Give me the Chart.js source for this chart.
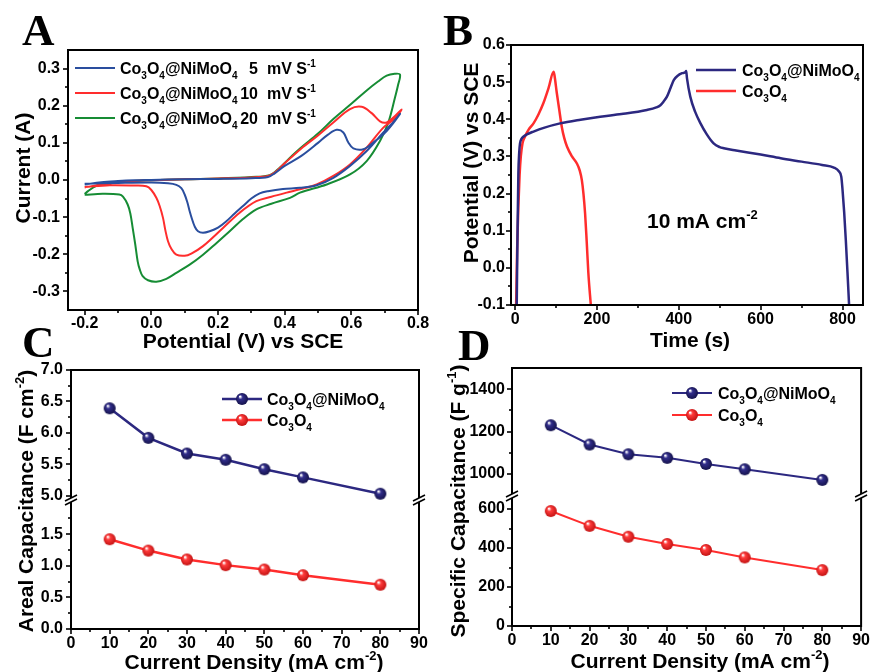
<!DOCTYPE html>
<html><head><meta charset="utf-8">
<script src="https://cdn.jsdelivr.net/npm/chart.js@4.4.0/dist/chart.umd.min.js"></script>
<style>
html,body{margin:0;padding:0;background:#fff;}
#wrap{position:relative;width:875px;height:672px;overflow:hidden;background:#fff;}
canvas{position:absolute;left:0;top:0;}
</style></head><body><div id="wrap">
<canvas id="cA" width="875" height="672"></canvas>
<canvas id="cB" width="875" height="672"></canvas>
<canvas id="cC" width="875" height="672"></canvas>
<canvas id="cD" width="875" height="672"></canvas>
</div>
<script>
// ---------- DATA ----------
// Panel A: CV curves (potential V, current A)
const cv5X  = [-0.2,-0.15,-0.1,-0.05,0.0,0.1,0.2,0.3,0.35,0.37,0.4,0.45,0.5,0.53,0.556,0.576,0.591,0.606,0.636,0.666,0.706,0.746,
               0.72,0.696,0.646,0.596,0.546,0.496,0.446,0.395,0.35,0.325,0.3,0.275,0.25,0.225,0.2,0.175,0.155,0.14,0.13,0.122,0.115,0.108,0.1,0.09,0.075,0.05,0.0,-0.1,-0.2];
const cv5Y  = [-0.012,-0.006,-0.003,-0.001,0.0,0.002,0.003,0.005,0.008,0.018,0.038,0.065,0.1,0.122,0.135,0.128,0.101,0.085,0.083,0.101,0.132,0.178,
               0.15,0.128,0.078,0.038,0.006,-0.014,-0.021,-0.024,-0.03,-0.036,-0.05,-0.07,-0.09,-0.111,-0.128,-0.138,-0.142,-0.138,-0.125,-0.105,-0.084,-0.06,-0.039,-0.022,-0.013,-0.009,-0.007,-0.008,-0.01];
const cv10X = [-0.2,-0.15,-0.1,-0.05,0.0,0.1,0.2,0.3,0.35,0.37,0.4,0.45,0.5,0.546,0.596,0.631,0.661,0.686,0.706,0.726,0.751,
               0.73,0.696,0.646,0.596,0.546,0.496,0.446,0.406,0.36,0.315,0.265,0.215,0.155,0.12,0.1,0.075,0.06,0.05,0.042,0.035,0.025,0.015,0.0,-0.015,-0.05,-0.125,-0.2];
const cv10Y = [-0.02,-0.012,-0.006,-0.003,-0.001,0.002,0.004,0.007,0.011,0.02,0.045,0.085,0.12,0.155,0.191,0.197,0.18,0.158,0.155,0.168,0.19,
               0.165,0.141,0.087,0.042,0.011,-0.012,-0.025,-0.034,-0.045,-0.057,-0.088,-0.129,-0.178,-0.198,-0.204,-0.201,-0.185,-0.165,-0.135,-0.102,-0.07,-0.048,-0.027,-0.017,-0.015,-0.014,-0.019];
const cv20X = [-0.2,-0.19,-0.166,-0.12,-0.096,0.0,0.1,0.2,0.3,0.355,0.385,0.416,0.446,0.5,0.546,0.6,0.646,0.68,0.706,0.73,0.746,
               0.74,0.731,0.711,0.686,0.646,0.596,0.526,0.446,0.416,0.36,0.315,0.275,0.235,0.195,0.155,0.115,0.075,0.045,0.015,-0.01,-0.026,-0.035,-0.041,-0.048,-0.056,-0.063,-0.071,-0.085,-0.096,-0.146,-0.2];
const cv20Y = [-0.038,-0.03,-0.016,-0.007,-0.005,-0.001,0.002,0.004,0.008,0.013,0.033,0.06,0.085,0.125,0.164,0.205,0.241,0.265,0.281,0.286,0.284,
               0.255,0.222,0.155,0.105,0.051,0.015,-0.012,-0.034,-0.048,-0.064,-0.079,-0.105,-0.138,-0.17,-0.201,-0.228,-0.25,-0.266,-0.274,-0.27,-0.259,-0.24,-0.219,-0.175,-0.129,-0.09,-0.066,-0.045,-0.039,-0.037,-0.04];
// Panel B: charge-discharge (time s, potential V)
const gcdNiX = [4,6,8,10,12,16,20,30,45,70,110,160,208,260,322,345,355,363,371,380,388,398,408,416,418,420,428,440,453,468,485,500,510,540,600,649,700,750,779,791,797,800,804,808,812,816];
const gcdNiY = [-0.1,0.1,0.254,0.31,0.335,0.348,0.353,0.36,0.367,0.377,0.389,0.399,0.407,0.414,0.425,0.432,0.438,0.448,0.461,0.485,0.506,0.518,0.524,0.527,0.53,0.51,0.461,0.42,0.389,0.36,0.335,0.325,0.322,0.316,0.305,0.295,0.286,0.277,0.27,0.26,0.245,0.21,0.15,0.075,-0.01,-0.1];
const gcdCoX = [2.5,5,8,11,14,18,24,33,45,57,69,82,94,96,102,108,114,120,127,139,151,158,163,167,171,175,179,185];
const gcdCoY = [-0.1,0.05,0.165,0.25,0.3,0.335,0.353,0.372,0.389,0.413,0.443,0.485,0.528,0.52,0.47,0.425,0.38,0.35,0.326,0.3,0.281,0.262,0.237,0.2,0.147,0.07,-0.014,-0.1];
// Panels C, D
const density   = [10,20,30,40,50,60,80];
const arealNi   = [6.39,5.92,5.67,5.57,5.42,5.29,5.03];
const arealCo   = [1.42,1.24,1.10,1.01,0.94,0.85,0.70];
const specNi    = [1230,1139,1093,1076,1047,1022,972];
const specCo    = [590,514,458,421,390,352,287];
// Tick values
const aXTicks = [-0.2,0,0.2,0.4,0.6,0.8], aXMinor = [-0.1,0.1,0.3,0.5,0.7];
const aYTicks = [-0.3,-0.2,-0.1,0,0.1,0.2,0.3], aYMinor = [-0.25,-0.15,-0.05,0.05,0.15,0.25];
const bXTicks = [0,200,400,600,800], bXMinor = [100,300,500,700];
const bYTicks = [-0.1,0,0.1,0.2,0.3,0.4,0.5,0.6], bYMinor = [-0.05,0.05,0.15,0.25,0.35,0.45,0.55];
const cdXTicks = [0,10,20,30,40,50,60,70,80,90], cdXMinor = [5,15,25,35,45,55,65,75,85];
const cTopTicks = [5.0,5.5,6.0,6.5,7.0], cTopMinor = [5.25,5.75,6.25,6.75];
const cBotTicks = [0,0.5,1.0,1.5], cBotMinor = [0.25,0.75,1.25,1.75];
const dTopTicks = [1000,1200,1400], dTopMinor = [1100,1300];
const dBotTicks = [0,200,400,600], dBotMinor = [100,300,500];

// ---------- STYLE ----------
const FAM = "'Liberation Sans', Arial, Helvetica, sans-serif";
const BLUE = 'rgb(42,78,158)', RED = 'rgb(255,45,45)', GREEN = 'rgb(22,140,52)', NAVY = 'rgb(44,40,128)';

function pts(xs, ys){ return xs.map((x,i)=>({x, y: ys[i]})); }

function sphere(base, dark){
  const r = 6, c = document.createElement('canvas'); c.width = c.height = 2*r+2;
  const g = c.getContext('2d');
  const grd = g.createRadialGradient(r+1-2, r+1-2.5, 0.5, r+1, r+1, r+0.5);
  grd.addColorStop(0, '#ffffff'); grd.addColorStop(0.28, base); grd.addColorStop(1, dark);
  g.fillStyle = grd; g.beginPath(); g.arc(r+1, r+1, r, 0, Math.PI*2); g.fill();
  return c;
}
const ballNavy = sphere('rgb(50,46,140)', 'rgb(18,16,70)');
const ballRed = sphere('rgb(255,60,60)', 'rgb(190,15,15)');

function rich(ctx, parts, x, y, size, align, rot, dyLocal){
  const fN = `bold ${size}px ${FAM}`, fS = `bold ${Math.round(size*0.62)}px ${FAM}`;
  let w = 0;
  const items = parts.map(([t,m]) => { ctx.font = m ? fS : fN; const tw = ctx.measureText(t).width; w += tw; return {t,m,tw}; });
  ctx.save(); ctx.translate(x, y); if (rot) ctx.rotate(rot);
  let cx = align === 'center' ? -w/2 : (align === 'right' ? -w : 0);
  ctx.textAlign = 'left'; ctx.textBaseline = 'alphabetic'; ctx.fillStyle = '#000';
  for (const it of items){
    ctx.font = it.m ? fS : fN;
    const dy = (dyLocal||0) + (it.m === 1 ? size*0.3 : (it.m === 2 ? -size*0.42 : 0));
    ctx.fillText(it.t, cx, dy); cx += it.tw;
  }
  ctx.restore();
}
const CoNi = [['Co',0],['3',1],['O',0],['4',1],['@NiMoO',0],['4',1]];
const Co = [['Co',0],['3',1],['O',0],['4',1]];

function makeDeco(cfg){
  return { id: 'deco', afterDraw(chart){
    const ctx = chart.ctx, ca = chart.chartArea;
    ctx.save(); ctx.strokeStyle = '#000';
    for (const t of cfg.ticks){
      const s = chart.scales[t.id];
      ctx.lineWidth = 1.6;
      for (const v of t.v){
        const p = Math.round(s.getPixelForValue(v)) + 0.0;
        ctx.beginPath();
        if (s.isHorizontal()){ ctx.moveTo(p, ca.bottom); ctx.lineTo(p, ca.bottom + t.len); }
        else { ctx.moveTo(ca.left, p); ctx.lineTo(ca.left - t.len, p); }
        ctx.stroke();
      }
    }
    ctx.lineWidth = 2; ctx.strokeRect(ca.left, ca.top, ca.width, ca.height);
    if (cfg.breakId){
      const y = chart.scales[cfg.breakId].bottom;
      for (const x of [ca.left, ca.right]){
        ctx.fillStyle = '#fff';
        ctx.beginPath(); ctx.moveTo(x-6, y+1); ctx.lineTo(x+6, y-5); ctx.lineTo(x+6, y-1); ctx.lineTo(x-6, y+5); ctx.closePath(); ctx.fill();
        ctx.lineWidth = 1.6;
        ctx.beginPath(); ctx.moveTo(x-6, y+1); ctx.lineTo(x+6, y-5); ctx.moveTo(x-6, y+5); ctx.lineTo(x+6, y-1); ctx.stroke();
      }
    }
    cfg.draw(ctx, chart);
    ctx.restore();
  }};
}

function lin(min, max, ticks, fmt, size, pad, extra){
  return Object.assign({
    type: 'linear', min, max,
    grid: {display: false, drawTicks: false},
    border: {display: false},
    ticks: {padding: pad, color: '#000', font: {size: 16, weight: 'bold', family: FAM}, callback: fmt, maxRotation: 0, autoSkip: false, includeBounds: false},
    afterBuildTicks: s => { s.ticks = ticks.map(v => ({value: v})); },
    afterFit: s => { if (s.isHorizontal()) s.height = size; else s.width = size; }
  }, extra || {});
}
const f1 = v => Number(v).toFixed(1), f0 = v => String(Math.round(v));
const base = { responsive: false, animation: false, events: [], plugins: {legend: {display: false}, tooltip: {enabled: false}} };
function line(label, data, color, w, extra){
  return Object.assign({label, data, borderColor: color, backgroundColor: color, borderWidth: w, pointRadius: 0, fill: false, tension: 0.35}, extra || {});
}
function letter(ctx, t, x, y){ ctx.font = `bold 45px 'Liberation Serif', 'Times New Roman', serif`; ctx.fillStyle = '#000'; ctx.textAlign = 'left'; ctx.textBaseline = 'alphabetic'; ctx.fillText(t, x, y); }
function legLine(ctx, x1, x2, y, color, w, ball){
  ctx.strokeStyle = color; ctx.lineWidth = w; ctx.beginPath(); ctx.moveTo(x1, y); ctx.lineTo(x2, y); ctx.stroke();
  if (ball) ctx.drawImage(ball, (x1+x2)/2 - ball.width/2, y - ball.height/2);
}

// ---------- PANEL A ----------
new Chart(document.getElementById('cA'), {
  type: 'line',
  data: {datasets: [
    line('5 mV/s', pts(cv5X, cv5Y), BLUE, 2),
    line('10 mV/s', pts(cv10X, cv10Y), RED, 2),
    line('20 mV/s', pts(cv20X, cv20Y), GREEN, 2)
  ]},
  options: Object.assign({}, base, {
    layout: {padding: {left: 0, top: 50, right: 457, bottom: 337}},
    scales: { x: lin(-0.25, 0.8, aXTicks, f1, 25, 4), y: lin(-0.35, 0.35, aYTicks, f1, 68, 8) }
  }),
  plugins: [makeDeco({
    ticks: [{id:'x', v:aXTicks, len:5}, {id:'x', v:aXMinor, len:3}, {id:'y', v:aYTicks, len:5}, {id:'y', v:aYMinor, len:3}],
    draw(ctx){
      letter(ctx, 'A', 22, 45);
      rich(ctx, [['Potential (V) vs SCE',0]], 243, 348, 21, 'center');
      rich(ctx, [['Current (A)',0]], 22, 168, 21, 'center', -Math.PI/2, 7.5);
      const rows = [[BLUE,'5',68],[RED,'10',93],[GREEN,'20',118]];
      for (const [c,n,y] of rows){
        legLine(ctx, 75, 115, y, c, 2);
        rich(ctx, CoNi, 120, y+5.8, 16, 'left');
        rich(ctx, [[n,0]], 258, y+5.8, 16, 'right');
        rich(ctx, [['mV S',0],['-1',2]], 267, y+5.8, 16, 'left');
      }
    }
  })]
});

// ---------- PANEL B ----------
new Chart(document.getElementById('cB'), {
  type: 'line',
  data: {datasets: [
    line('Co3O4@NiMoO4', pts(gcdNiX, gcdNiY), NAVY, 2.5, {cubicInterpolationMode: 'monotone'}),
    line('Co3O4', pts(gcdCoX, gcdCoY), RED, 2.5, {cubicInterpolationMode: 'monotone'})
  ]},
  options: Object.assign({}, base, {
    layout: {padding: {left: 440, top: 45, right: 12, bottom: 342}},
    scales: { x: lin(-10, 850, bXTicks, f0, 25, 5), y: lin(-0.1, 0.6, bYTicks, f1, 71, 6) }
  }),
  plugins: [makeDeco({
    ticks: [{id:'x', v:bXTicks, len:5}, {id:'x', v:bXMinor, len:3}, {id:'y', v:bYTicks, len:5}, {id:'y', v:bYMinor, len:3}],
    draw(ctx){
      letter(ctx, 'B', 443, 45);
      rich(ctx, [['Time (s)',0]], 690, 347, 21, 'center');
      rich(ctx, [['Potential (V) vs SCE',0]], 470, 163, 21, 'center', -Math.PI/2, 7.5);
      rich(ctx, [['10 mA cm',0],['-2',2]], 647, 228, 21, 'left');
      legLine(ctx, 696, 736, 70, NAVY, 2.5);
      rich(ctx, CoNi, 742, 75.8, 16, 'left');
      legLine(ctx, 696, 736, 91, RED, 2.5);
      rich(ctx, Co, 742, 96.8, 16, 'left');
    }
  })]
});

// ---------- PANEL C ----------
new Chart(document.getElementById('cC'), {
  type: 'line',
  data: {datasets: [
    line('Co3O4@NiMoO4', pts(density, arealNi), NAVY, 2.5, {tension: 0, pointStyle: ballNavy, pointRadius: 6, yAxisID: 'yTop'}),
    line('Co3O4', pts(density, arealCo), RED, 2.5, {tension: 0, pointStyle: ballRed, pointRadius: 6, yAxisID: 'yBot'})
  ]},
  options: Object.assign({}, base, {
    layout: {padding: {left: 0, top: 370, right: 456, bottom: 18}},
    scales: {
      x: lin(0, 90, cdXTicks, f0, 25, 5),
      yTop: lin(4.93, 7.0, cTopTicks, f1, 71, 8, {position: 'left', stack: 'c', stackWeight: 130, weight: 2}),
      yBot: lin(0, 2.04, cBotTicks, f1, 71, 8, {position: 'left', stack: 'c', stackWeight: 129, weight: 1})
    }
  }),
  plugins: [makeDeco({
    breakId: 'yTop',
    ticks: [{id:'x', v:cdXTicks, len:5}, {id:'x', v:cdXMinor, len:3}, {id:'yTop', v:cTopTicks, len:5}, {id:'yTop', v:cTopMinor, len:3}, {id:'yBot', v:cBotTicks, len:5}, {id:'yBot', v:cBotMinor, len:3}],
    draw(ctx){
      letter(ctx, 'C', 22, 357);
      rich(ctx, [['Current Density (mA cm',0],['-2',2],[')',0]], 254, 669, 21, 'center');
      rich(ctx, [['Areal Capacitance (F cm',0],['-2',2],[')',0]], 25, 501, 21, 'center', -Math.PI/2, 7.5);
      legLine(ctx, 222, 262, 399, NAVY, 2.5, ballNavy);
      rich(ctx, CoNi, 267, 404.8, 16, 'left');
      legLine(ctx, 222, 262, 420, RED, 2.5, ballRed);
      rich(ctx, Co, 267, 425.8, 16, 'left');
    }
  })]
});

// ---------- PANEL D ----------
new Chart(document.getElementById('cD'), {
  type: 'line',
  data: {datasets: [
    line('Co3O4@NiMoO4', pts(density, specNi), NAVY, 2, {tension: 0, pointStyle: ballNavy, pointRadius: 6, yAxisID: 'yTop'}),
    line('Co3O4', pts(density, specCo), RED, 2, {tension: 0, pointStyle: ballRed, pointRadius: 6, yAxisID: 'yBot'})
  ]},
  options: Object.assign({}, base, {
    layout: {padding: {left: 440, top: 368, right: 11, bottom: 21}},
    scales: {
      x: lin(0, 90, cdXTicks, f0, 25, 5),
      yTop: lin(896, 1500, dTopTicks, f0, 72, 7, {position: 'left', stack: 'd', stackWeight: 128, weight: 2}),
      yBot: lin(0, 667, dBotTicks, f0, 72, 7, {position: 'left', stack: 'd', stackWeight: 130, weight: 1})
    }
  }),
  plugins: [makeDeco({
    breakId: 'yTop',
    ticks: [{id:'x', v:cdXTicks, len:5}, {id:'x', v:cdXMinor, len:3}, {id:'yTop', v:dTopTicks, len:5}, {id:'yTop', v:dTopMinor, len:3}, {id:'yBot', v:dBotTicks, len:5}, {id:'yBot', v:dBotMinor, len:3}],
    draw(ctx){
      letter(ctx, 'D', 458, 360);
      rich(ctx, [['Current Density (mA cm',0],['-2',2],[')',0]], 700, 668, 21, 'center');
      rich(ctx, [['Specific Capacitance (F g',0],['-1',2],[')',0]], 457, 501, 21, 'center', -Math.PI/2, 7.5);
      legLine(ctx, 672, 712, 393, NAVY, 2, ballNavy);
      rich(ctx, CoNi, 718, 398.8, 16, 'left');
      legLine(ctx, 672, 712, 415, RED, 2, ballRed);
      rich(ctx, Co, 718, 420.8, 16, 'left');
    }
  })]
});
</script></body></html>
